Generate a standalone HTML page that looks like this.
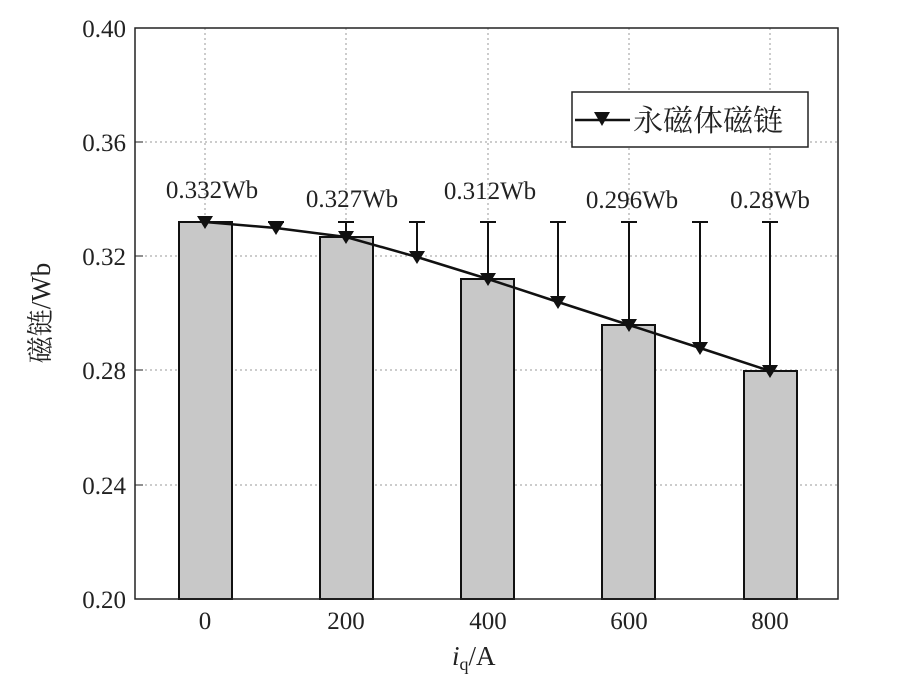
<!DOCTYPE html>
<html><head><style>body{margin:0;background:#fff}</style></head><body>
<svg width="899" height="681" xmlns="http://www.w3.org/2000/svg" font-family="Liberation Serif, 'Noto Serif CJK SC', serif">
<g stroke="#999" stroke-dasharray="2,3" stroke-width="1">
<line x1="135" x2="838" y1="142" y2="142"/><line x1="135" x2="838" y1="256" y2="256"/><line x1="135" x2="838" y1="370" y2="370"/><line x1="135" x2="838" y1="485" y2="485"/>
<line x1="205" x2="205" y1="28" y2="599"/><line x1="346" x2="346" y1="28" y2="599"/><line x1="488" x2="488" y1="28" y2="599"/><line x1="629" x2="629" y1="28" y2="599"/><line x1="770" x2="770" y1="28" y2="599"/>
</g>
<g fill="#c8c8c8" stroke="#111" stroke-width="2">
<rect x="179" y="222" width="53" height="377"/>
<rect x="320" y="237" width="53" height="362"/>
<rect x="461" y="279" width="53" height="320"/>
<rect x="602" y="325" width="53" height="274"/>
<rect x="744" y="371" width="53" height="228"/>
</g>
<g stroke="#111" stroke-width="2">
<path d="M276 222V228M346 222V237M417 222V257M488 222V279M558 222V302M629 222V325M700 222V348M770 222V371"/>
<path d="M268 222h16M338 222h16M409 222h16M480 222h16M550 222h16M621 222h16M692 222h16M762 222h16"/>
</g>
<polyline fill="none" stroke="#111" stroke-width="2.5" points="205,222 276,228 346,237 417,257 488,279 558,302 629,325 700,348 770,371"/>
<g fill="#111">
<path d="M197,216h16l-8,13z"/><path d="M268,222h16l-8,13z"/><path d="M338,231h16l-8,13z"/><path d="M409,251h16l-8,13z"/><path d="M480,273h16l-8,13z"/><path d="M550,296h16l-8,13z"/><path d="M621,319h16l-8,13z"/><path d="M692,342h16l-8,13z"/><path d="M762,365h16l-8,13z"/>
</g>
<rect x="135" y="28" width="703" height="571" fill="none" stroke="#222" stroke-width="1.5"/>
<g stroke="#222"><path d="M135 142h8M135 256h8M135 370h8M135 485h8"/></g>
<g font-size="25" fill="#222" text-anchor="middle">
<text x="212" y="198">0.332Wb</text><text x="352" y="207">0.327Wb</text><text x="490" y="199">0.312Wb</text><text x="632" y="208">0.296Wb</text><text x="770" y="208">0.28Wb</text>
</g>
<g font-size="25" fill="#222" text-anchor="end">
<text x="126" y="37">0.40</text><text x="126" y="151">0.36</text><text x="126" y="265">0.32</text><text x="126" y="379">0.28</text><text x="126" y="494">0.24</text><text x="126" y="608">0.20</text>
</g>
<g font-size="25" fill="#222" text-anchor="middle">
<text x="205" y="629">0</text><text x="346" y="629">200</text><text x="488" y="629">400</text><text x="629" y="629">600</text><text x="770" y="629">800</text>
</g>
<text x="452" y="665" font-size="27" fill="#222"><tspan font-style="italic">i</tspan><tspan font-size="18" dy="5">q</tspan><tspan dy="-5">/A</tspan></text>
<text transform="translate(50,313) rotate(-90)" font-size="27" fill="#222" text-anchor="middle">磁链/Wb</text>
<rect x="572" y="92" width="236" height="55" fill="#fff" stroke="#222" stroke-width="1.5"/>
<line x1="575" x2="630" y1="120" y2="120" stroke="#111" stroke-width="2.5"/>
<path d="M594,112h16l-8,14z" fill="#111"/>
<text x="633" y="131" font-size="30" fill="#222">永磁体磁链</text>
</svg>
</body></html>
